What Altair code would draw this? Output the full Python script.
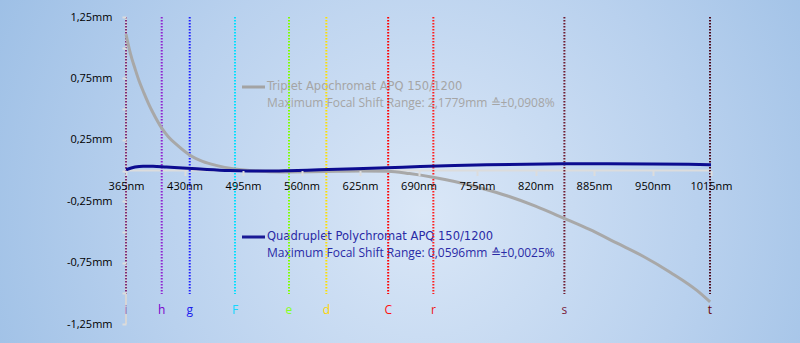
import altair as alt
import pandas as pd

# ---- data ----
tri_wl = [365, 370, 375, 380, 385, 390, 395, 404.7, 412, 421, 436, 450, 465, 486,
          510, 540, 570, 600, 625, 656, 680, 706, 730, 760, 790, 820, 852, 880,
          910, 940, 970, 1000, 1014]
tri_mm = [1.11, 0.95, 0.83, 0.72, 0.63, 0.545, 0.47, 0.345, 0.275, 0.212, 0.125, 0.075,
          0.042, 0.012, -0.005, -0.012, -0.010, -0.006, -0.004, -0.006, -0.025, -0.055,
          -0.09, -0.145, -0.21, -0.29, -0.39, -0.48, -0.59, -0.70, -0.83, -0.98, -1.07]

quad_wl = [365, 375, 384, 395, 410, 433, 455, 480, 500, 520, 545, 580, 620, 655, 692,
           730, 766, 810, 851, 900, 950, 990, 1015]
quad_mm = [0.006, 0.028, 0.035, 0.034, 0.028, 0.019, 0.009, 0.000, -0.004, -0.005,
           -0.002, 0.006, 0.014, 0.022, 0.032, 0.040, 0.046, 0.051, 0.054, 0.055,
           0.053, 0.050, 0.047]

line_names = ["i", "h", "g", "F", "e", "d", "C", "r", "s", "t"]
line_wl = [365.0, 404.7, 435.8, 486.1, 546.1, 587.6, 656.3, 706.5, 852.1, 1013.9]
line_colors = ["#7a2c7a", "#9022d0", "#2020ff", "#00e0ff", "#80ff00", "#ffe000",
               "#ff0000", "#ff1e1e", "#6e1a30", "#4c0a1c"]
label_colors = ["#8870c0", "#7a00cc", "#1a1aee", "#14d8ff", "#88ff22", "#ffd400",
                "#ff1010", "#ee1111", "#7a1a3a", "#6a0a0a"]

x_ticks = [365, 430, 495, 560, 625, 690, 755, 820, 885, 950, 1015]
y_ticks = [-1.25, -1.0, -0.75, -0.5, -0.25, 0.0, 0.25, 0.5, 0.75, 1.0, 1.25]

tri_title = "Triplet Apochromat APQ 150/1200"
tri_range = "Maximum Focal Shift Range: 2,1779mm \u2259\u00b10,0908%"
quad_title = "Quadruplet Polychromat APQ 150/1200"
quad_range = "Maximum Focal Shift Range: 0,0596mm \u2259\u00b10,0025%"

# ---- tables ----
tri = pd.DataFrame({"wl": tri_wl, "mm": tri_mm})
quad = pd.DataFrame({"wl": quad_wl, "mm": quad_mm})
lines = pd.DataFrame({"name": line_names, "wl": line_wl})
one = pd.DataFrame({"a": [0]})

FONT = "Open Sans"
W, H = 585, 307

xscale = alt.Scale(domain=[365, 1015], nice=False, zero=False)
yscale = alt.Scale(domain=[-1.25, 1.25], nice=False, zero=False)

xaxis = alt.Axis(values=x_ticks, labelExpr="datum.value + 'nm'", domain=False, grid=False,
                 tickSize=5, tickColor="#dcdcdc", tickWidth=2, labelColor="#000000",
                 labelFont=FONT, labelFontSize=11, labelPadding=5, title=None,
                 offset=-153.5, zindex=1, labelFlush=False, labelOverlap=False)
yaxis = alt.Axis(values=y_ticks,
                 labelExpr="abs(datum.value) % 0.5 == 0.25 ? (datum.value < 0 ? '-' : '') + "
                           "replace(format(abs(datum.value), '.2f'), '.', ',') + 'mm' : ''",
                 domain=False, grid=False, tickSize=4, tickColor="#dcdcdc", tickWidth=2,
                 labelColor="#000000", labelFont=FONT, labelFontSize=11, labelPadding=10,
                 title=None, zindex=1, labelOverlap=False)

X = alt.X("wl:Q", scale=xscale, axis=xaxis)
Y = alt.Y("mm:Q", scale=yscale, axis=yaxis)

gradient = {
    "gradient": "radial",
    "x1": 0.53, "y1": 0.55, "r1": 0.0,
    "x2": 0.53, "y2": 0.55, "r2": 0.62,
    "stops": [
        {"offset": 0.0, "color": "#dae7f7"},
        {"offset": 0.55, "color": "#b9d1ee"},
        {"offset": 1.0, "color": "#9bbee5"},
    ],
}

bg = alt.Chart(one).mark_rect(fill=gradient, strokeWidth=0).encode(
    x=alt.value(-126), x2=alt.value(674), y=alt.value(-17), y2=alt.value(326))

# axis lines drawn under the curves
yline = alt.Chart(pd.DataFrame({"wl": [365, 365], "mm": [-1.25, 1.25]})).mark_line(
    color="#d6d6d6", strokeWidth=2).encode(x=X, y=Y)
xline = alt.Chart(pd.DataFrame({"wl": [365, 1015], "mm": [0, 0]})).mark_line(
    color="#dcdcdc", strokeWidth=2).encode(x=X, y=Y)

# legend blocks
def text_layer(s, ypix, color, font, size):
    return alt.Chart(pd.DataFrame({"t": [s]})).mark_text(
        align="left", baseline="middle", font=font, fontSize=size, color=color
    ).encode(x=alt.value(141), y=alt.value(ypix), text="t:N")

leg_tri_line = alt.Chart(one).mark_rule(color="#a3a3a3", strokeWidth=3).encode(
    x=alt.value(116), x2=alt.value(139), y=alt.value(70))
leg_quad_line = alt.Chart(one).mark_rule(color="#1a1a96", strokeWidth=3).encode(
    x=alt.value(116), x2=alt.value(139), y=alt.value(220))
leg_texts = [
    text_layer(tri_title, 70, "#a5a5a5", "DejaVu Sans", 11.5),
    text_layer(tri_range, 86, "#a5a5a5", FONT, 12),
    text_layer(quad_title, 220, "#2a2aa6", "DejaVu Sans", 11.5),
    text_layer(quad_range, 236, "#2a2aa6", FONT, 12),
]

rules = alt.Chart(lines).mark_rule(strokeWidth=2, strokeDash=[1.5, 1.5]).encode(
    x=X, y=alt.value(0), y2=alt.value(277),
    stroke=alt.Stroke("name:N", scale=alt.Scale(domain=line_names, range=line_colors),
                      legend=None))
rule_labels = alt.Chart(lines).mark_text(font=FONT, fontSize=12, baseline="middle").encode(
    x=X, y=alt.value(293), text="name:N",
    fill=alt.Fill("name:N", scale=alt.Scale(domain=line_names, range=label_colors),
                  legend=None))

tri_curve = alt.Chart(tri).mark_line(color="#a8a8a8", strokeWidth=3,
                                     interpolate="monotone").encode(x=X, y=Y)
quad_curve = alt.Chart(quad).mark_line(color="#0c0c90", strokeWidth=3,
                                       interpolate="monotone").encode(x=X, y=Y)

chart = alt.layer(
    bg, yline, xline, leg_tri_line, leg_quad_line, *leg_texts,
    rules, rule_labels, tri_curve, quad_curve
).resolve_scale(stroke="independent", fill="independent").properties(
    width=W, height=H,
    autosize=alt.AutoSizeParams(type="none"),
    padding={"left": 126, "top": 17, "right": 89, "bottom": 19},
).configure(background="#9dbfe5").configure_view(stroke=None)

chart.save("out.html", embed_options={"renderer": "svg", "actions": False})
